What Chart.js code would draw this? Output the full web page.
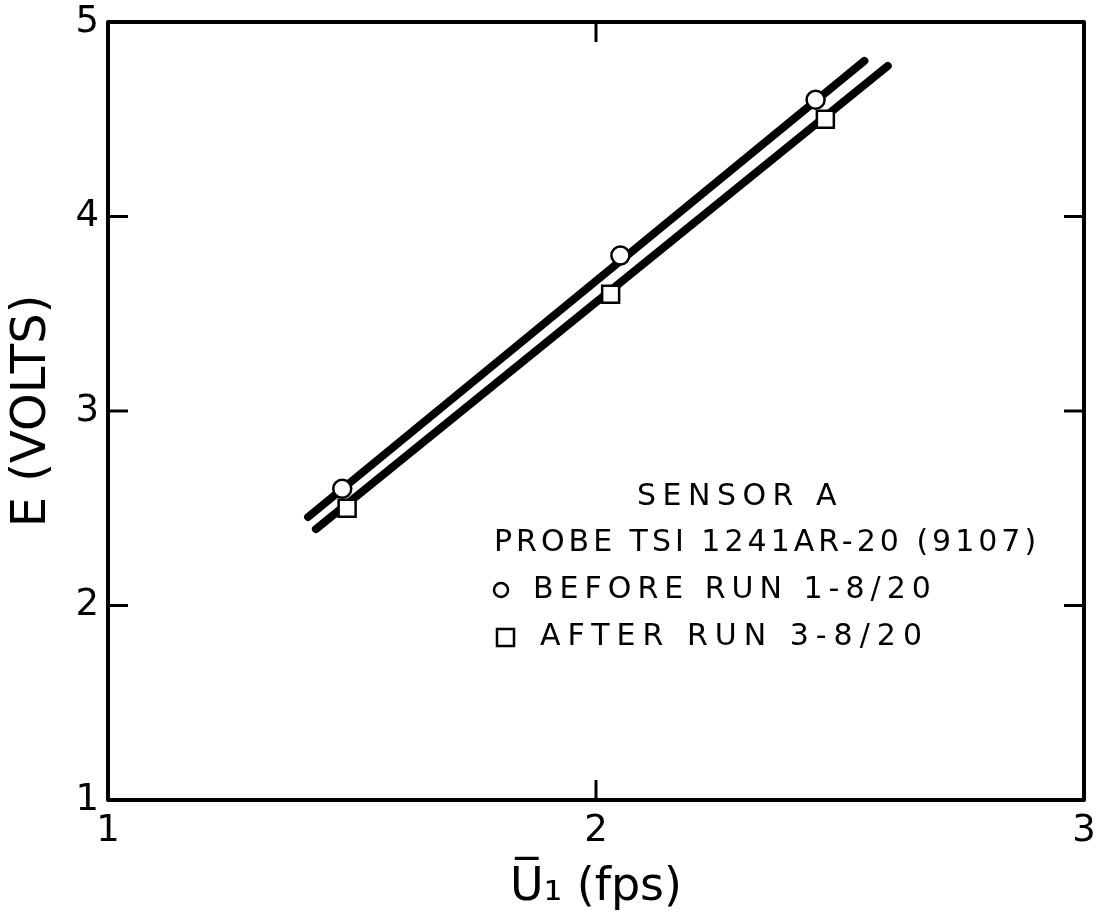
<!DOCTYPE html>
<html>
<head>
<meta charset="utf-8">
<script src="https://cdn.jsdelivr.net/npm/chart.js@4.4.0/dist/chart.umd.min.js"></script>
<style>
  html, body { margin: 0; padding: 0; background: #fff; }
  #wrap { width: 1102px; height: 920px; }
</style>
</head>
<body>
<div id="wrap"><canvas id="c" width="1102" height="920"></canvas></div>
<script>
// Calibration of sensor A: bridge voltage E against mean velocity U1
const beforeU = [1.48, 2.05, 2.45];
const beforeE = [2.6, 3.8, 4.6];
const afterU = [1.49, 2.03, 2.47];
const afterE = [2.5, 3.6, 4.5];

// End points of the two fitted calibration lines
const fitBeforeU = [1.41, 2.55];
const fitBeforeE = [2.455, 4.80];
const fitAfterU = [1.426, 2.598];
const fitAfterE = [2.393, 4.774];

// Axis ticks
const xTickValues = [1, 2, 3];
const yTickValues = [1, 2, 3, 4, 5];
const xInnerTicks = [2];
const yInnerTicks = [2, 3, 4];

// Key text
const keyTitle = 'SENSOR A';
const keyProbe = 'PROBE TSI 1241AR-20 (9107)';
const keyBefore = 'BEFORE RUN 1-8/20';
const keyAfter = 'AFTER RUN 3-8/20';

const FONT = '"DejaVu Sans", "Liberation Sans", sans-serif';
const pts = (xs, ys) => xs.map((x, i) => ({ x: x, y: ys[i] }));

// Plot frame with inward tick marks
const framePlugin = {
  id: 'frame',
  beforeDatasetsDraw(chart) {
    const { ctx, chartArea: a, scales } = chart;
    ctx.save();
    ctx.strokeStyle = '#000';
    ctx.lineWidth = 4;
    ctx.lineJoin = 'round';
    ctx.strokeRect(a.left, a.top, a.right - a.left, a.bottom - a.top);
    ctx.lineWidth = 3;
    const len = 20;
    ctx.beginPath();
    yInnerTicks.forEach(v => {
      const y = scales.y.getPixelForValue(v);
      ctx.moveTo(a.left, y); ctx.lineTo(a.left + len, y);
      ctx.moveTo(a.right, y); ctx.lineTo(a.right - len, y);
    });
    xInnerTicks.forEach(v => {
      const x = scales.x.getPixelForValue(v);
      ctx.moveTo(x, a.bottom); ctx.lineTo(x, a.bottom - len);
      ctx.moveTo(x, a.top); ctx.lineTo(x, a.top + len);
    });
    ctx.stroke();
    ctx.restore();
  }
};

// Key block inside the plot
const keyPlugin = {
  id: 'key',
  afterDatasetsDraw(chart) {
    const { ctx } = chart;
    ctx.save();
    ctx.fillStyle = '#000';
    ctx.strokeStyle = '#000';
    ctx.font = '30px ' + FONT;
    ctx.textBaseline = 'middle';
    ctx.textAlign = 'left';
    ctx.letterSpacing = '6.5px';
    ctx.fillText(keyTitle, 637, 497);
    ctx.letterSpacing = '4px';
    ctx.fillText(keyProbe, 494, 543);
    ctx.letterSpacing = '6px';
    ctx.fillText(keyBefore, 533, 590);
    ctx.letterSpacing = '7px';
    ctx.fillText(keyAfter, 540, 637);
    ctx.lineWidth = 2.5;
    ctx.beginPath();
    ctx.arc(501, 590, 7, 0, Math.PI * 2);
    ctx.stroke();
    ctx.strokeRect(497, 629, 17, 17);
    ctx.restore();
  }
};

new Chart(document.getElementById('c'), {
  type: 'scatter',
  data: {
    datasets: [
      {
        label: keyBefore,
        data: pts(beforeU, beforeE),
        pointStyle: 'circle',
        pointRadius: 9,
        pointBackgroundColor: '#fff',
        pointBorderColor: '#000',
        pointBorderWidth: 2.5,
        showLine: false,
        order: 0
      },
      {
        label: keyAfter,
        data: pts(afterU, afterE),
        pointStyle: 'rect',
        pointRadius: 12,
        pointBackgroundColor: '#fff',
        pointBorderColor: '#000',
        pointBorderWidth: 2.5,
        showLine: false,
        order: 0
      },
      {
        label: 'fit before',
        data: pts(fitBeforeU, fitBeforeE),
        showLine: true,
        borderColor: '#000',
        borderWidth: 8,
        borderCapStyle: 'round',
        pointRadius: 0,
        order: 1
      },
      {
        label: 'fit after',
        data: pts(fitAfterU, fitAfterE),
        showLine: true,
        borderColor: '#000',
        borderWidth: 8,
        borderCapStyle: 'round',
        pointRadius: 0,
        order: 1
      }
    ]
  },
  options: {
    responsive: false,
    animation: false,
    devicePixelRatio: 1,
    layout: { padding: { left: 0, top: 22, right: 18, bottom: 0 } },
    plugins: {
      legend: { display: false },
      tooltip: { enabled: false }
    },
    scales: {
      x: {
        type: 'linear',
        min: 1, max: 3,
        afterBuildTicks: s => { s.ticks = xTickValues.map(v => ({ value: v })); },
        afterFit: s => { s.height = 120; s.paddingLeft = 0; s.paddingRight = 0; },
        grid: { display: false, drawTicks: false },
        border: { display: false },
        ticks: { color: '#000', padding: 9, font: { family: FONT, size: 37 } },
        title: {
          display: true,
          text: 'U\u0305\u2081 (fps)',
          color: '#000',
          padding: 0,
          font: { family: FONT, size: 46, lineHeight: 1.37 }
        }
      },
      y: {
        type: 'linear',
        min: 1, max: 5,
        afterBuildTicks: s => { s.ticks = yTickValues.map(v => ({ value: v })); },
        afterFit: s => { s.width = 108; s.paddingTop = 0; s.paddingBottom = 0; },
        grid: { display: false, drawTicks: false },
        border: { display: false },
        ticks: { color: '#000', padding: 9, font: { family: FONT, size: 37 } },
        title: {
          display: true,
          text: 'E (VOLTS)',
          color: '#000',
          padding: 0,
          font: { family: FONT, size: 48, lineHeight: 1.375 }
        }
      }
    }
  },
  plugins: [framePlugin, keyPlugin]
});
</script>
</body>
</html>
